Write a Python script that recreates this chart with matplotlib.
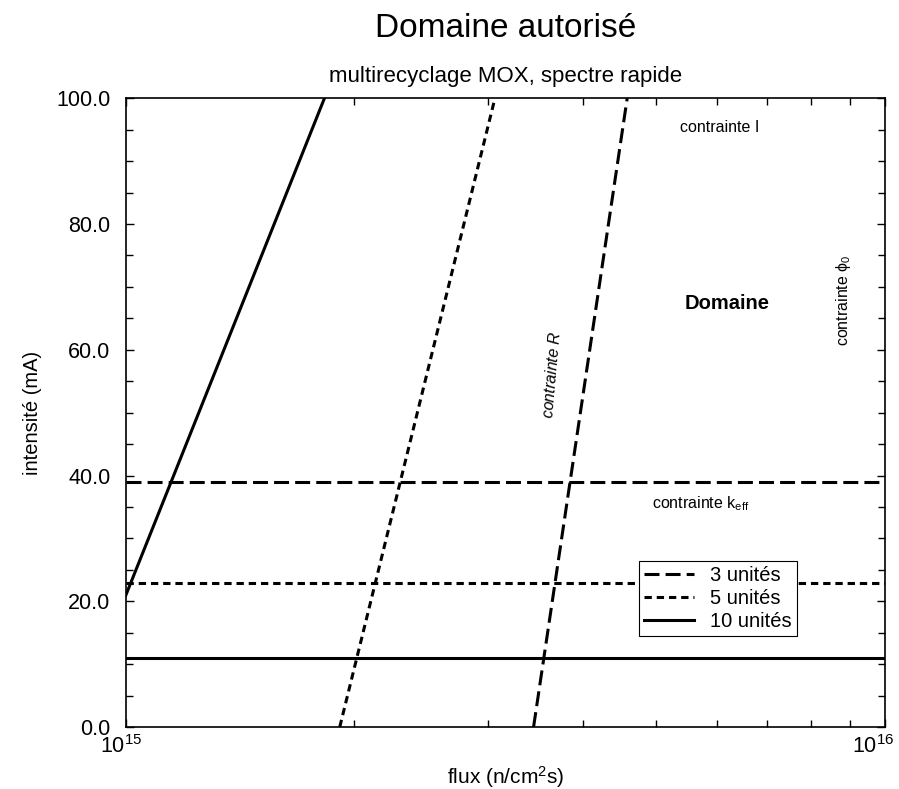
import matplotlib
matplotlib.use("Agg")
import matplotlib.pyplot as plt
from matplotlib.ticker import FixedLocator, LogLocator, MultipleLocator, FormatStrFormatter, NullFormatter
from matplotlib.transforms import ScaledTranslation

plt.rcParams['font.family'] = ['Liberation Sans', 'DejaVu Sans']
plt.rcParams['mathtext.fontset'] = 'custom'
plt.rcParams['mathtext.rm'] = 'Liberation Sans'
plt.rcParams['mathtext.it'] = 'Liberation Sans:italic'
plt.rcParams['mathtext.bf'] = 'Liberation Sans:bold'
plt.rcParams['mathtext.default'] = 'regular'

# Data
# Sloped constraint lines (contrainte R): (flux, intensity) endpoints
flux_R_10 = [1.0e15, 1.827e15]
int_R_10 = [20.9, 100.0]
flux_R_5 = [1.914e15, 3.064e15]
int_R_5 = [0.0, 100.0]
flux_R_3 = [3.445e15, 4.576e15]
int_R_3 = [0.0, 100.0]
# Horizontal constraint lines (contrainte k_eff)
flux_range = [1e15, 1e16]
keff_3 = 38.9
keff_5 = 22.9
keff_10 = 10.9
series_labels = ['3 unités', '5 unités', '10 unités']
y_ticks = [0, 20, 40, 60, 80, 100]
x_ticks = [1e15, 1e16]
x_ticklabels = [r'$10^{15}$', r'$10^{16}$']

fig = plt.figure(figsize=(8.99, 7.89), dpi=100)
ax = fig.add_axes([0.1398, 0.0786, 0.9844 - 0.1398, 0.8754 - 0.0786])

lw = 2.2
long_dash = (4.9, 2.0)
short_dash = (2.4, 1.6)

l3, = ax.plot(flux_range, [keff_3, keff_3], color='black', lw=lw, dashes=long_dash)
ax.plot(flux_R_3, int_R_3, color='black', lw=lw, dashes=long_dash)
l5, = ax.plot(flux_range, [keff_5, keff_5], color='black', lw=lw, dashes=short_dash)
ax.plot(flux_R_5, int_R_5, color='black', lw=lw, dashes=short_dash)
l10, = ax.plot(flux_range, [keff_10, keff_10], color='black', lw=lw)
ax.plot(flux_R_10, int_R_10, color='black', lw=lw)

ax.set_xscale('log')
ax.set_xlim(1e15, 1e16)
ax.set_ylim(0, 100)

ax.xaxis.set_major_locator(FixedLocator(x_ticks))
ax.set_xticklabels(x_ticklabels)
ax.xaxis.set_minor_locator(LogLocator(base=10, subs=range(2, 10)))
ax.xaxis.set_minor_formatter(NullFormatter())
ax.yaxis.set_major_locator(FixedLocator(y_ticks))
ax.yaxis.set_major_formatter(FormatStrFormatter('%.1f'))
ax.yaxis.set_minor_locator(MultipleLocator(5))

ax.tick_params(which='both', direction='in', top=True, right=True, width=1)
ax.tick_params(which='major', length=6)
ax.tick_params(which='minor', length=5)
ax.tick_params(axis='y', which='major', labelsize=15.5, pad=11)
ax.tick_params(axis='x', which='major', labelsize=15.5, pad=6)
for s in ax.spines.values():
    s.set_linewidth(1.2)

# shift x tick labels slightly left, as in the reference
shifts = [-3.2, -8.4]
for lab, dx in zip(ax.get_xticklabels(), shifts):
    lab.set_transform(lab.get_transform() + ScaledTranslation(dx / 72, 0, fig.dpi_scale_trans))

ax.set_xlabel('flux (n/cm$^2$s)', fontsize=15, labelpad=4)
ax.set_ylabel('intensité (mA)', fontsize=14.5, labelpad=10)
ax.set_title('multirecyclage MOX, spectre rapide', fontsize=16, pad=12)
fig.text(0.562, 0.9645, 'Domaine autorisé', ha='center', va='center', fontsize=24)

ax.text(6.06e15, 95.3, 'contrainte I', fontsize=11.5, ha='center', va='center')
ax.text(6.19e15, 67.3, 'Domaine', fontsize=14.5, fontweight='bold', ha='center', va='center')
ax.text(3.64e15, 56.0, 'contrainte $\\it{R}$', fontsize=11.5, ha='center', va='center', rotation=85, style='italic')
ax.text(8.83e15, 67.9, 'contrainte $\\phi_0$', fontsize=11.5, ha='center', va='center', rotation=90)
ax.text(5.71e15, 35.6, 'contrainte k$_{eff}$', fontsize=11.5, ha='center', va='center')

leg = ax.legend([l3, l5, l10], series_labels, loc='upper left', bbox_to_anchor=(0.676, 0.264),
                fontsize=14.5, frameon=True, fancybox=False, edgecolor='black', framealpha=1,
                borderpad=0.25, labelspacing=0.2, handlelength=2.5, handletextpad=0.8,
                borderaxespad=0)
leg.get_frame().set_linewidth(0.8)

fig.savefig('out.png', dpi=100)
